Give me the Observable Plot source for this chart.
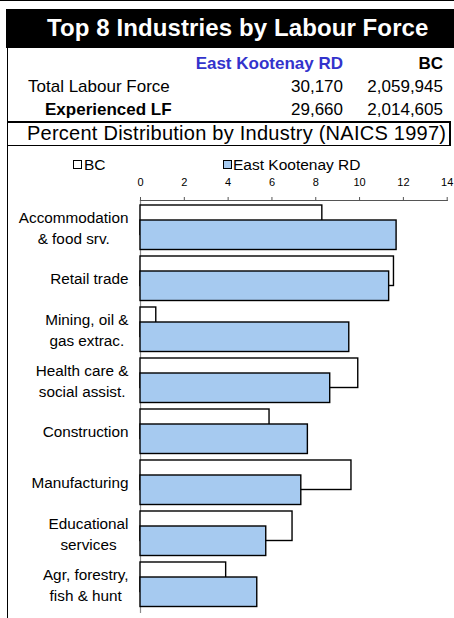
<!DOCTYPE html>
<html>
<head>
<meta charset="utf-8">
<script src="https://cdn.jsdelivr.net/npm/d3@7"></script>
<script src="https://cdn.jsdelivr.net/npm/@observablehq/plot@0.6"></script>
<style>
  html, body { margin: 0; padding: 0; background: #fff; }
  body { font-family: "Liberation Sans", Arial, sans-serif; }
  #wrap { position: relative; width: 454px; height: 618px; overflow: hidden; }
  .abs { position: absolute; white-space: nowrap; }
  .t17 { font-size: 17px; line-height: 17px; }
  .t15 { font-size: 15.5px; line-height: 15.5px; }
  #chart { position: absolute; left: 0; top: 150px; }
</style>
</head>
<body>
<div id="wrap">
  <div class="abs" style="left:0;top:0;width:454px;height:1px;background:#000"></div>
  <div class="abs" style="left:6px;top:9px;width:448px;height:39px;background:#000"></div>
  <div class="abs" id="title" style="left:47px;top:15.7px;font-size:24px;line-height:24px;font-weight:bold;color:#fff;letter-spacing:0.1px"></div>
  <div class="abs" style="left:7px;top:48px;width:1px;height:570px;background:#000"></div>

  <div class="abs t17" id="hdrEK" style="right:111px;top:54.6px;font-weight:bold;color:#3333cc"></div>
  <div class="abs t17" id="hdrBC" style="right:11px;top:54.6px;font-weight:bold;color:#000"></div>

  <div class="abs t17" id="row0lab" style="left:28px;top:77.9px"></div>
  <div class="abs t17" id="row0ek" style="right:111px;top:77.9px"></div>
  <div class="abs t17" id="row0bc" style="right:11px;top:77.9px"></div>

  <div class="abs t17" id="row1lab" style="left:45px;top:100.6px;font-weight:bold"></div>
  <div class="abs t17" id="row1ek" style="right:111px;top:100.6px"></div>
  <div class="abs t17" id="row1bc" style="right:11px;top:100.6px"></div>

  <div class="abs" style="left:7px;top:121px;width:444px;height:2px;background:#000"></div>
  <div class="abs" style="left:449px;top:121px;width:1.5px;height:25px;background:#000"></div>
  <div class="abs" style="left:7px;top:145px;width:443px;height:1px;background:#000"></div>
  <div class="abs" id="subtitle" style="left:27px;top:123.1px;font-size:20px;line-height:20px;letter-spacing:0.25px"></div>

  <div class="abs" style="left:73px;top:160px;width:7px;height:7px;border:1.3px solid #000;background:#fff"></div>
  <div class="abs t15" id="legBC" style="left:84px;top:156.9px"></div>
  <div class="abs" style="left:223px;top:160px;width:7px;height:7px;border:1.3px solid #000;background:#a6caf0"></div>
  <div class="abs t15" id="legEK" style="left:233px;top:156.9px"></div>

  <div id="chart"></div>
</div>
<script>
// ---- data ----
const titleText = "Top 8 Industries by Labour Force";
const subtitleText = "Percent Distribution by Industry (NAICS 1997)";
const regionName = "East Kootenay RD";
const provinceName = "BC";
const rowLabels = ["Total Labour Force", "Experienced LF"];
const regionCounts = ["30,170", "29,660"];
const provinceCounts = ["2,059,945", "2,014,605"];

const categories = [
  "Accommodation\n& food srv.",
  "Retail trade",
  "Mining, oil &\ngas extrac.",
  "Health care &\nsocial assist.",
  "Construction",
  "Manufacturing",
  "Educational\nservices",
  "Agr, forestry,\nfish & hunt"
];
const bcValues = [8.3, 11.57, 0.72, 9.94, 5.89, 9.63, 6.94, 3.91];
const ekValues = [11.69, 11.35, 9.53, 8.66, 7.64, 7.34, 5.74, 5.33];
const xTicks = [0, 2, 4, 6, 8, 10, 12, 14];

// ---- header text ----
document.getElementById("title").textContent = titleText;
document.getElementById("subtitle").textContent = subtitleText;
document.getElementById("hdrEK").textContent = regionName;
document.getElementById("hdrBC").textContent = provinceName;
document.getElementById("row0lab").textContent = rowLabels[0];
document.getElementById("row1lab").textContent = rowLabels[1];
document.getElementById("row0ek").textContent = regionCounts[0];
document.getElementById("row1ek").textContent = regionCounts[1];
document.getElementById("row0bc").textContent = provinceCounts[0];
document.getElementById("row1bc").textContent = provinceCounts[1];
document.getElementById("legBC").textContent = provinceName;
document.getElementById("legEK").textContent = regionName;

const data = categories.map((c, i) => ({cat: c, bc: bcValues[i], ek: ekValues[i]}));

const chart = Plot.plot({
  width: 454,
  height: 468,
  marginTop: 50,
  marginBottom: 6,
  marginLeft: 140,
  marginRight: 7.3,
  style: {fontFamily: "'Liberation Sans', Arial, sans-serif", color: "#000", background: "transparent"},
  x: {domain: [0, 14]},
  y: {domain: categories, padding: 0},
  marks: [
    Plot.frame({anchor: "left", stroke: "#8a8a8a", strokeWidth: 1.2}),
    Plot.barX(data, {x: "bc", y: "cat", fill: "#ffffff", stroke: "#000", strokeWidth: 1.4, insetTop: 3, insetBottom: 18.5}),
    Plot.barX(data, {x: "ek", y: "cat", fill: "#a6caf0", stroke: "#000", strokeWidth: 1.4, insetTop: 18, insetBottom: 3.5}),
    Plot.frame({anchor: "top", stroke: "#555", strokeWidth: 1.2}),
    Plot.axisX({anchor: "top", ticks: xTicks, tickSize: 4, tickPadding: 10.5, fontSize: 11, stroke: "#555", label: null, tickFormat: d => String(d)}),
    Plot.axisY({anchor: "left", tickSize: 0, tickPadding: 12, fontSize: 15.3, lineHeight: 1.4, dy: -1.5, label: null})
  ]
});
document.getElementById("chart").appendChild(chart);

// center multi-line category labels within their block (right edge kept)
chart.querySelectorAll("g[aria-label='y-axis tick label'] text").forEach(t => {
  const spans = t.querySelectorAll("tspan");
  if (spans.length > 1) {
    let w = 0;
    spans.forEach(s => { w = Math.max(w, s.getComputedTextLength()); });
    spans.forEach(s => { s.setAttribute("x", -w / 2); s.setAttribute("text-anchor", "middle"); });
  }
});
</script>
</body>
</html>
